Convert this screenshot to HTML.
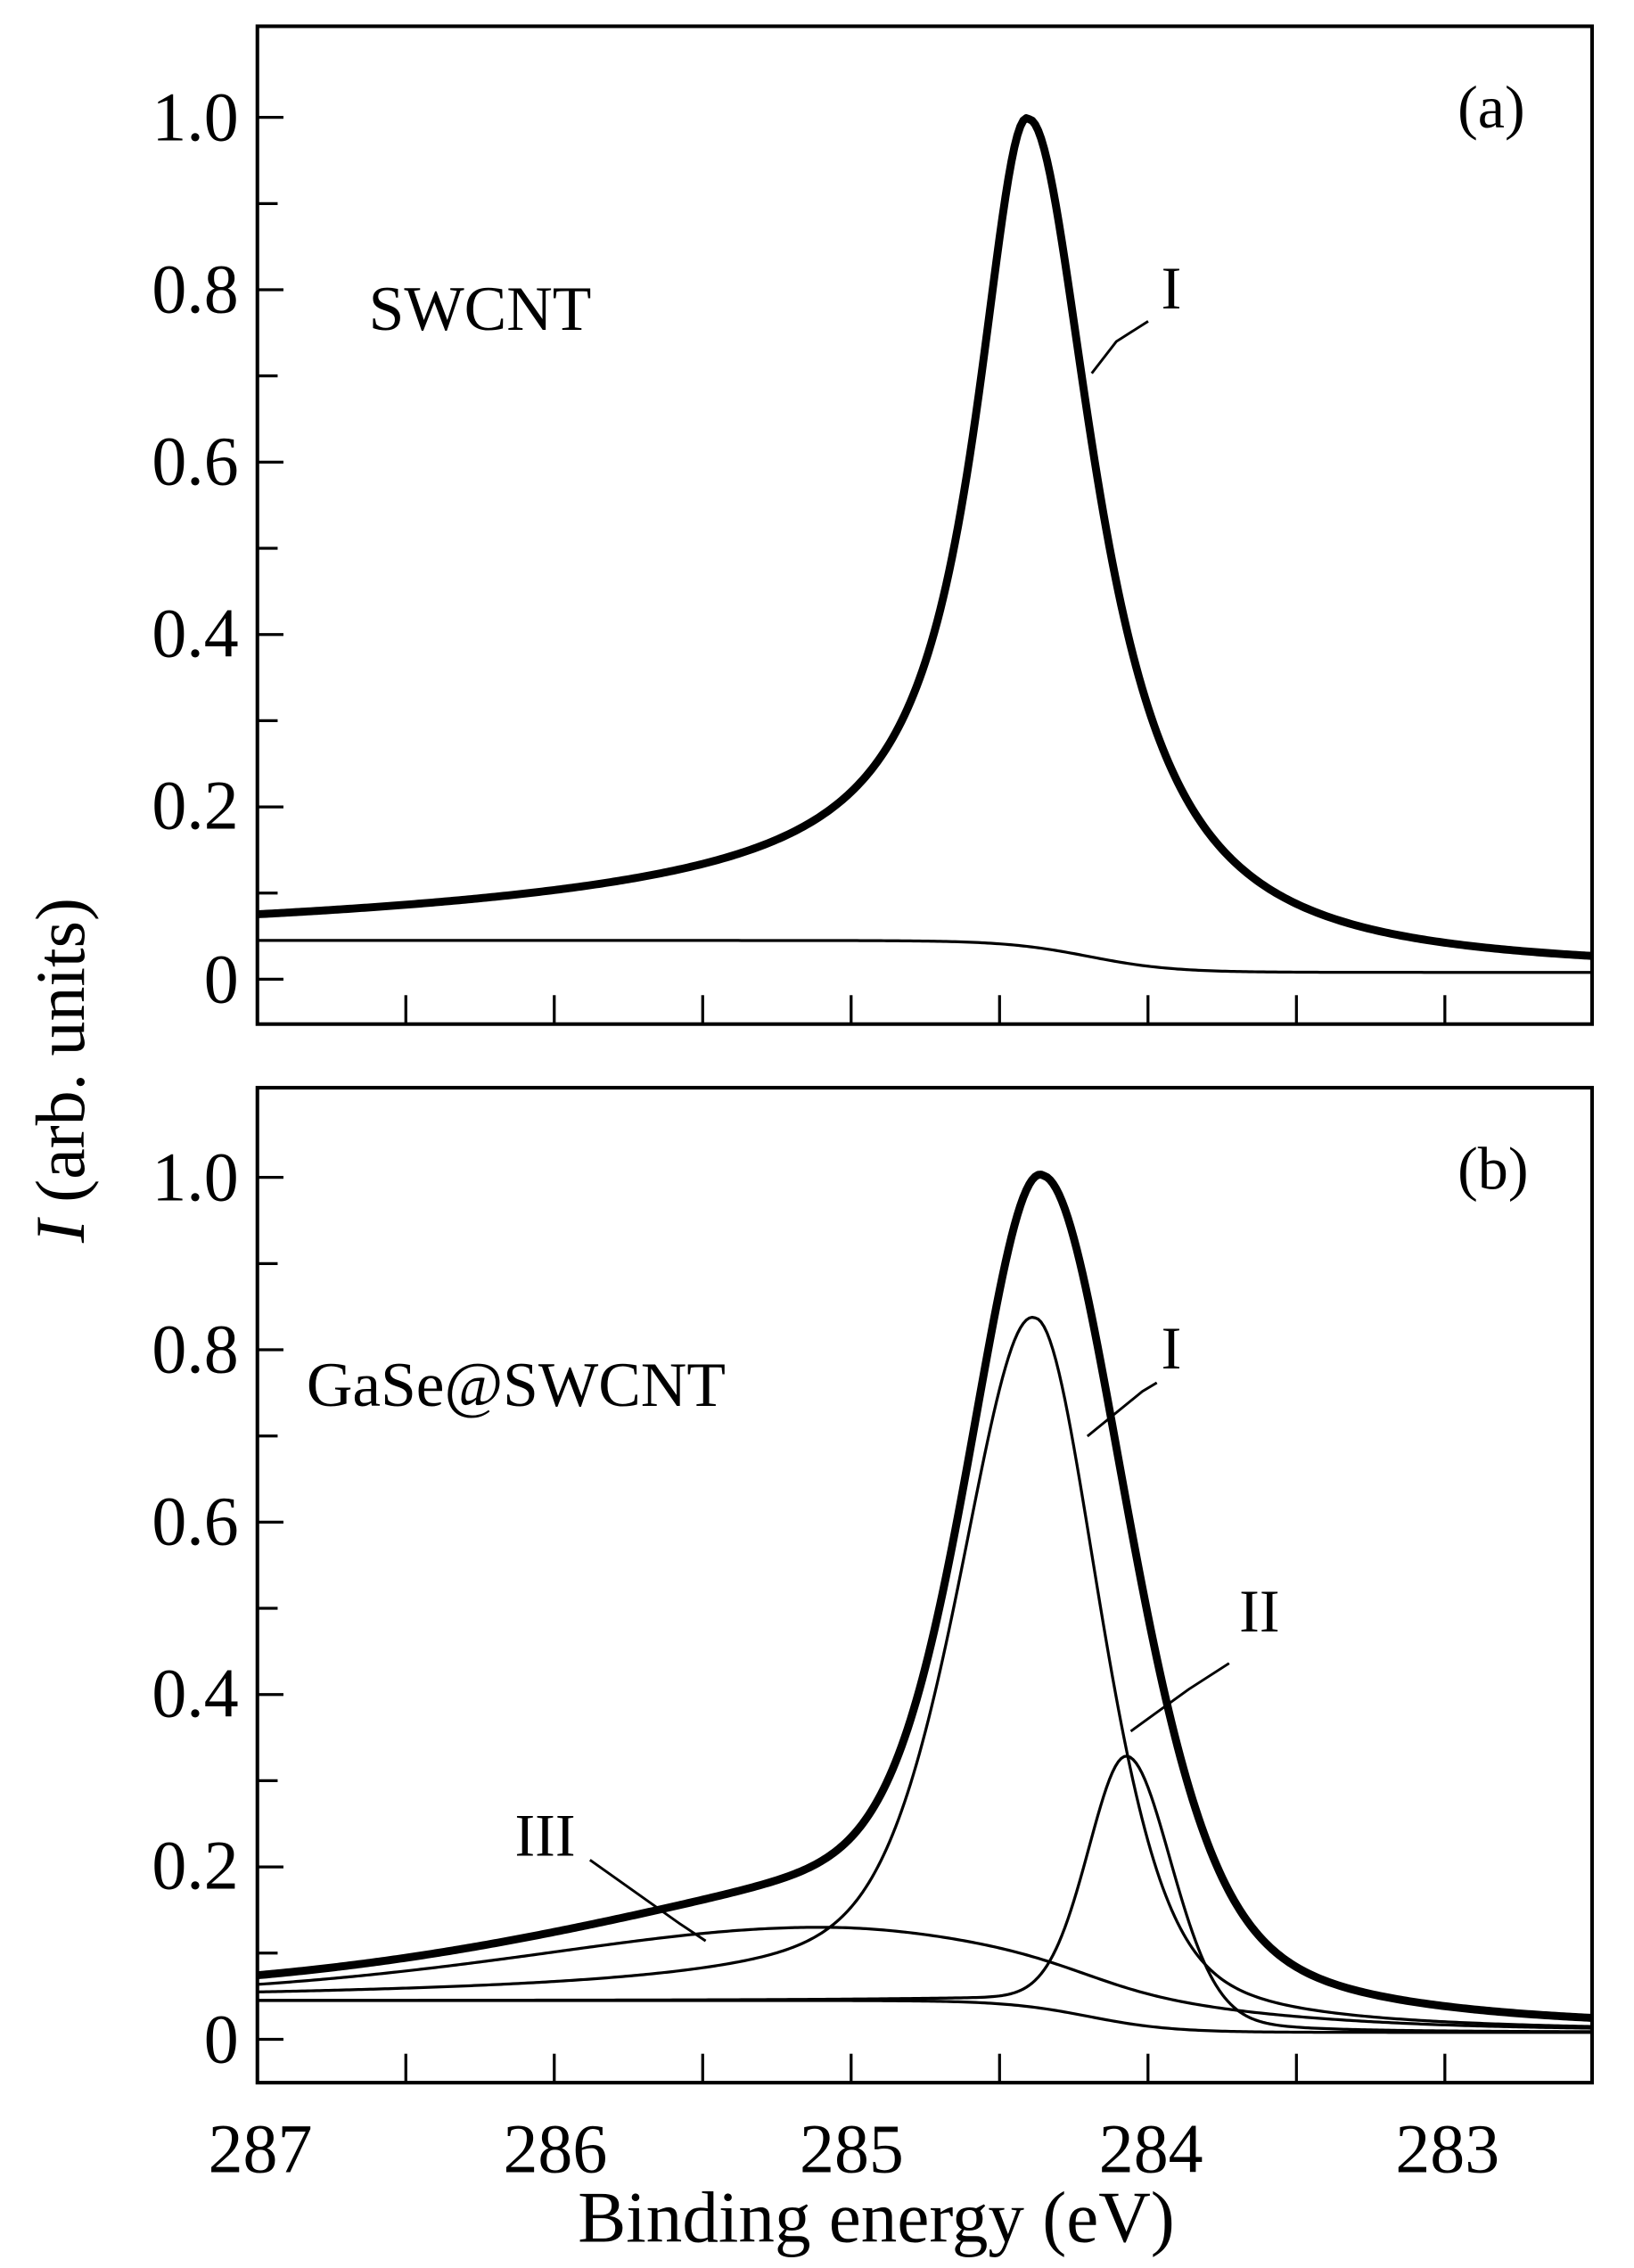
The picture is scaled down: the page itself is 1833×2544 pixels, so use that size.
<!DOCTYPE html>
<html><head><meta charset="utf-8"><style>
html,body{margin:0;padding:0;background:#fff;}
svg{display:block;}
text{font-family:"Liberation Serif",serif;fill:#000;}
</style></head><body>
<svg id="s" width="1833" height="2544" viewBox="0 0 1130 1568" xmlns="http://www.w3.org/2000/svg">
<rect x="0" y="0" width="1130" height="1568" fill="#fff"/>
<defs><clipPath id="c"><rect x="178" y="0" width="923" height="1568"/></clipPath></defs>
<g id="g" clip-path="url(#c)"></g>
<rect x="178" y="18" width="923" height="690" fill="none" stroke="#000" stroke-width="2.5"/>
<rect x="178" y="752" width="923" height="688" fill="none" stroke="#000" stroke-width="2.5"/>
<g font-size="48" text-anchor="end">
<text x="165" y="97">1.0</text><text x="165" y="216">0.8</text><text x="165" y="335">0.6</text><text x="165" y="454">0.4</text><text x="165" y="573">0.2</text><text x="165" y="693">0</text>
<text x="165" y="830">1.0</text><text x="165" y="949">0.8</text><text x="165" y="1068">0.6</text><text x="165" y="1187">0.4</text><text x="165" y="1306">0.2</text><text x="165" y="1426">0</text>
</g>
<g font-size="48" text-anchor="middle">
<text x="180" y="1502">287</text><text x="384" y="1502">286</text><text x="589" y="1502">285</text><text x="796" y="1502">284</text><text x="1001" y="1502">283</text>
<text x="606" y="1550" font-size="50">Binding energy  (eV)</text>
</g>
<text transform="translate(58,740) rotate(-90)" font-size="48" text-anchor="middle"><tspan font-style="italic">I</tspan>  (arb. units)</text>
<text x="255" y="228" font-size="44">SWCNT</text>
<text x="212" y="972" font-size="44">GaSe@SWCNT</text>
<text x="1008" y="88" font-size="42">(a)</text>
<text x="1008" y="822" font-size="42">(b)</text>
<text x="803" y="213" font-size="42">I</text>
<text x="803" y="946" font-size="42">I</text>
<text x="857" y="1128" font-size="42">II</text>
<text x="356" y="1283" font-size="42">III</text>
<g stroke="#000" stroke-width="1.8" fill="none">
<path d="M755,258 L772,236 L794,222"/>
<path d="M752,993 L790,962 L800,956"/>
<path d="M782,1197 L822,1168 L850,1150"/>
<path d="M408,1286 L470,1330 L488,1342"/>
</g>
</svg>
<script>
(function(){
var NS="http://www.w3.org/2000/svg",g=document.getElementById('g');
function X(E){return 178+(287-E)*205.3;}
function line(pts,w,par){var p=document.createElementNS(NS,'path');p.setAttribute('d','M'+pts.map(function(q){return q[0].toFixed(2)+','+q[1].toFixed(2)}).join(' L'));p.setAttribute('fill','none');p.setAttribute('stroke','#000');p.setAttribute('stroke-width',w);p.setAttribute('stroke-linejoin','round');(par||g).appendChild(p);}
var s=document.getElementById('s');
function tick(x1,y1,x2,y2){line([[x1,y1],[x2,y2]],2,s);}
[[18,708,81,677],[752,1440,814,1410]].forEach(function(P){
 var bot=P[1],y1=P[2],y0=P[3],u=(y0-y1);
 for(var i=0;i<=10;i++){var y=y0-i*0.1*u;tick(178,y,i%2==0?196:192,y);}
 for(var e=286.5;e>=282.9;e-=0.5){tick(X(e),bot,X(e),bot-20);}
});
function bg(E){return 0.008+0.037/(1+Math.exp(-(E-284.2)/0.14));}
function pv(E,x0,h,wl,wr,eta){var d=E-x0,w=d>0?wl:wr,t=d/w;return h*(eta/(1+t*t)+(1-eta)*Math.exp(-0.693*t*t));}
function curve(f,y0,u,w){var pts=[];for(var E=287.02;E>=282.4;E-=0.01){pts.push([X(E),y0-f(E)*u]);}line(pts,w);}
var ua=596;
function totA(E){var d=E-284.4;if(d>0)return bg(E)+0.96/(1+Math.pow(d/0.22,2))+0.1*Math.exp(-d/1.8)*(1-Math.exp(-d/0.35));return bg(E)+0.96/(1+Math.pow(d/0.27,2));}
curve(bg,677,ua,2);
curve(totA,677,ua,5.5);
var ub=596;
function cI(E){var d=E-284.38;var t=d>0?0.03*Math.exp(-d/1.5)*(1-Math.exp(-d/0.3)):0;return pv(E,284.38,0.80,0.3,0.26,0.45)+t;}
function cII(E){return pv(E,284.07,0.31,0.16,0.18,0.2);}
function cIII(E){return pv(E,285.1,0.085,1.2,1.0,0.4);}
function tot(E){var d=E-284.35;var t=d>0?0.035*Math.exp(-d/1.5)*(1-Math.exp(-d/0.3)):0;return bg(E)+cIII(E)+pv(E,284.35,0.91,0.3,0.34,0.4)+t;}
curve(bg,1410,ub,2);
curve(function(E){return bg(E)+cI(E);},1410,ub,2);
curve(function(E){return bg(E)+cII(E);},1410,ub,2);
curve(function(E){return bg(E)+cIII(E);},1410,ub,2);
curve(tot,1410,ub,5.5);
})();
</script>
</body></html>
